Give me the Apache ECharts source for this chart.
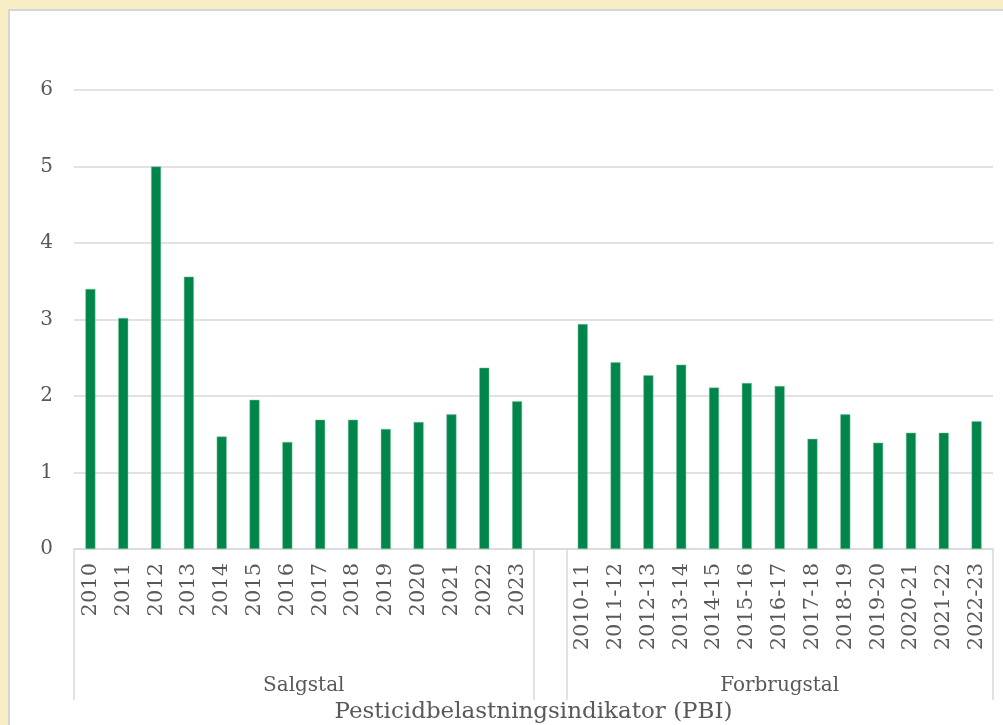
<!DOCTYPE html>
<html>
<head>
<meta charset="utf-8">
<script src="https://cdn.jsdelivr.net/npm/echarts@6/dist/echarts.min.js"></script>
<style>
html,body{margin:0;padding:0;background:#F8EEC5;}
#chart{width:1003px;height:725px;}
</style>
</head>
<body>
<div id="chart"></div>
<script>
// Data
const salgCats = ['2010','2011','2012','2013','2014','2015','2016','2017','2018','2019','2020','2021','2022','2023'];
const salgVals = [3.40, 3.02, 5.00, 3.56, 1.47, 1.95, 1.40, 1.69, 1.69, 1.57, 1.66, 1.76, 2.37, 1.93];
const forbrugCats = ['2010-11','2011-12','2012-13','2013-14','2014-15','2015-16','2016-17','2017-18','2018-19','2019-20','2020-21','2021-22','2022-23'];
const forbrugVals = [2.94, 2.44, 2.27, 2.41, 2.11, 2.17, 2.13, 1.44, 1.76, 1.39, 1.52, 1.52, 1.67];
const groupNames = ['Salgstal', 'Forbrugstal'];
const yTicks = [0, 1, 2, 3, 4, 5, 6];
const axisTitle = 'Pesticidbelastningsindikator (PBI)';

// Build combined category list with one empty gap slot between groups
const categories = [...salgCats, '', ...forbrugCats];
const values = [...salgVals, null, ...forbrugVals];
const n = categories.length;
const g1End = salgCats.length;          // 14
const g2Start = g1End + 1;              // 15
const groupCenters = [g1End / 2, (g2Start + n) / 2];
const groupBounds = [0, g1End, g2Start, n];

const font = 'DejaVu Serif';
const txt = '#595959';
const gridC = '#D9D9D9';

const chart = echarts.init(document.getElementById('chart'), null, {renderer: 'canvas'});
chart.setOption({
  backgroundColor: '#F8EEC5',
  animation: false,
  graphic: [{
    type: 'rect', z: -10, silent: true,
    shape: {x: 9, y: 10, width: 1010, height: 730},
    style: {fill: '#FFFFFF', stroke: '#D6D6D6', lineWidth: 2}
  }],
  grid: {left: 74, right: 10, top: 90, bottom: 176, containLabel: false, outerBoundsMode: 'none'},
  xAxis: [{
    type: 'category',
    data: categories,
    position: 'bottom',
    axisLine: {show: true, lineStyle: {color: gridC, width: 1.5}},
    axisTick: {show: false},
    axisLabel: {interval: 0, rotate: 90, fontFamily: font, fontSize: 21, color: txt, margin: 14}
  }, {
    type: 'value',
    min: 0, max: n,
    position: 'bottom',
    gridIndex: 0,
    axisLine: {show: false},
    splitLine: {show: false},
    axisTick: {show: true, customValues: groupBounds, length: 151, lineStyle: {color: gridC, width: 1.5}},
    axisLabel: {
      show: true, customValues: groupCenters, margin: 127,
      fontFamily: font, fontSize: 20, color: txt,
      formatter: function (v) {
        const i = groupCenters.indexOf(v);
        return i >= 0 ? groupNames[i] : '';
      }
    },
    name: axisTitle,
    nameLocation: 'middle',
    nameGap: 152,
    nameTextStyle: {fontFamily: font, fontSize: 23, color: txt}
  }],
  yAxis: {
    type: 'value',
    min: yTicks[0], max: yTicks[yTicks.length - 1], interval: 1,
    axisLine: {show: false},
    axisTick: {show: false},
    splitLine: {lineStyle: {color: gridC, width: 1.5}},
    axisLabel: {fontFamily: font, fontSize: 20, color: txt, margin: 21}
  },
  series: [{
    type: 'bar',
    xAxisIndex: 0,
    data: values,
    barWidth: 10,
    itemStyle: {color: '#00854A', borderColor: '#7CC49D', borderWidth: 0.5}
  }]
});
</script>
</body>
</html>
